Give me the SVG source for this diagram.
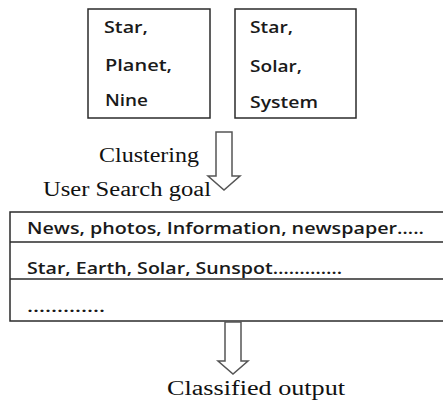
<svg xmlns="http://www.w3.org/2000/svg" width="443" height="403" viewBox="0 0 443 403">
  <style>
    .box { fill: #ffffff; stroke: #2b2b2b; stroke-width: 1.5; }
    .rule { stroke: #2b2b2b; stroke-width: 1.5; }
    .arrow { fill: #ffffff; stroke: #555555; stroke-width: 1.5; stroke-linejoin: miter; }
    .sans { font-family: "Open Sans", "Noto Sans", "DejaVu Sans", sans-serif; font-size: 17px; font-weight: 600; fill: #1a1a1a; }
    .serif { font-family: "Liberation Serif", "Times New Roman", serif; font-size: 20px; fill: #111111; }
  </style>

  <rect width="443" height="403" fill="#ffffff"/>

  <!-- keyword clusters -->
  <g id="cluster-1">
    <rect class="box" x="88" y="9" width="122" height="109"/>
    <text class="sans" x="104" y="33" textLength="44" lengthAdjust="spacingAndGlyphs">Star,</text>
    <text class="sans" x="105" y="71" textLength="67" lengthAdjust="spacingAndGlyphs">Planet,</text>
    <text class="sans" x="105" y="106" textLength="43" lengthAdjust="spacingAndGlyphs">Nine</text>
  </g>
  <g id="cluster-2">
    <rect class="box" x="235" y="9" width="121" height="109"/>
    <text class="sans" x="250" y="33" textLength="43" lengthAdjust="spacingAndGlyphs">Star,</text>
    <text class="sans" x="250" y="72" textLength="52" lengthAdjust="spacingAndGlyphs">Solar,</text>
    <text class="sans" x="250" y="108" textLength="68" lengthAdjust="spacingAndGlyphs">System</text>
  </g>

  <!-- labels -->
  <g id="label-clustering">
    <text class="serif" x="99" y="162" textLength="100" lengthAdjust="spacingAndGlyphs">Clustering</text>
  </g>
  <g id="label-goal">
    <text class="serif" x="43" y="196" textLength="168" lengthAdjust="spacingAndGlyphs">User Search goal</text>
  </g>

  <!-- search goal table -->
  <g id="search-goals">
    <rect class="box" x="10" y="212" width="445" height="109"/>
    <line class="rule" x1="10" y1="242" x2="455" y2="242"/>
    <line class="rule" x1="10" y1="279" x2="455" y2="279"/>
    <text class="sans" x="27" y="234" textLength="397" lengthAdjust="spacingAndGlyphs">News, photos, Information, newspaper…..</text>
    <text class="sans" x="27" y="274" textLength="315" lengthAdjust="spacingAndGlyphs">Star, Earth, Solar, Sunspot………….</text>
    <text class="sans" x="27" y="312" textLength="78" lengthAdjust="spacingAndGlyphs">………….</text>
  </g>

  <g id="label-output">
    <text class="serif" x="167" y="395" textLength="178" lengthAdjust="spacingAndGlyphs">Classified output</text>
  </g>

  <!-- block arrows -->
  <g id="connectors">
    <polygon class="arrow" points="216,132 232,132 232,176 240,176 224,190 208,176 216,176"/>
    <polygon class="arrow" points="225,322 241,322 241,361 248,361 233,374 218,361 225,361"/>
  </g>
</svg>
